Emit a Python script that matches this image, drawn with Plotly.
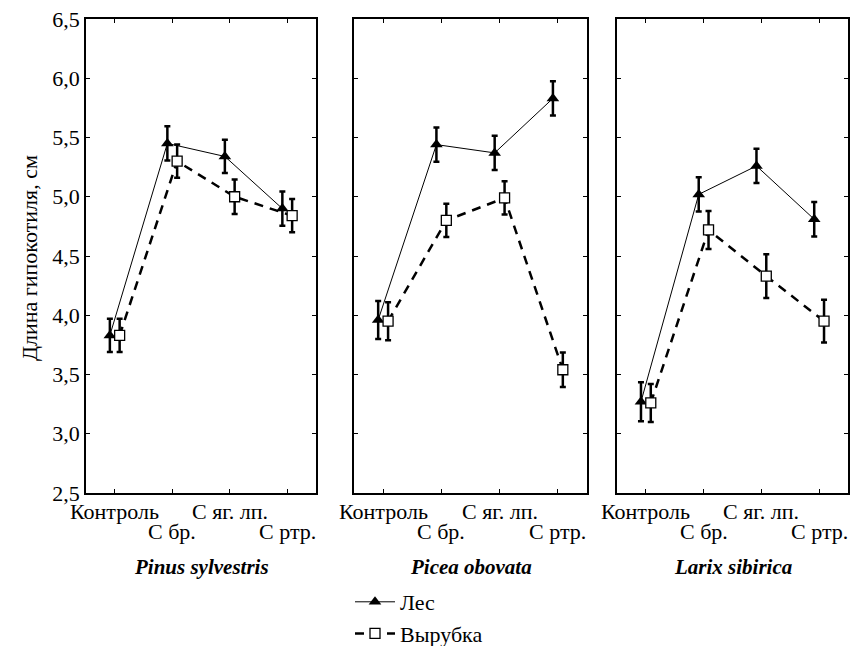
import plotly.graph_objects as go

categories = ["Контроль", "С бр.", "С яг. лп.", "С ртр."]
species = ["Pinus sylvestris", "Picea obovata", "Larix sibirica"]
series_names = ["Лес", "Вырубка"]
y_title = "Длина гипокотиля, см"
y_ticks = [2.5, 3.0, 3.5, 4.0, 4.5, 5.0, 5.5, 6.0, 6.5]

# Лес (forest)
pinus_les = [3.83, 5.45, 5.34, 4.90]
pinus_les_err = [0.14, 0.145, 0.14, 0.145]
picea_les = [3.96, 5.44, 5.37, 5.83]
picea_les_err = [0.16, 0.145, 0.145, 0.145]
larix_les = [3.27, 5.02, 5.26, 4.81]
larix_les_err = [0.165, 0.145, 0.145, 0.145]

# Вырубка (clearing)
pinus_vyr = [3.83, 5.30, 5.00, 4.84]
pinus_vyr_err = [0.14, 0.14, 0.145, 0.14]
picea_vyr = [3.95, 4.80, 4.99, 3.54]
picea_vyr_err = [0.16, 0.14, 0.14, 0.145]
larix_vyr = [3.26, 4.72, 4.33, 3.95]
larix_vyr_err = [0.16, 0.16, 0.185, 0.18]

les_vals = [pinus_les, picea_les, larix_les]
les_errs = [pinus_les_err, picea_les_err, larix_les_err]
vyr_vals = [pinus_vyr, picea_vyr, larix_vyr]
vyr_errs = [pinus_vyr_err, picea_vyr_err, larix_vyr_err]

FONT = "Liberation Serif"
W, H = 851, 646
domains_px = [(86, 316), (354, 587), (617, 848)]
top_px, bot_px = 19, 493
label_rows_px = [511, 531]
offset = 0.085

fig = go.Figure()
xpos = list(range(len(categories)))

for p in range(3):
    xa = "x" if p == 0 else f"x{p+1}"
    ya = "y" if p == 0 else f"y{p+1}"
    fig.add_trace(go.Scatter(
        x=[i - offset for i in xpos], y=les_vals[p],
        mode="lines+markers", name=series_names[0],
        legendgroup="les", showlegend=(p == 0),
        line=dict(color="black", width=1),
        marker=dict(symbol="triangle-up", size=11, color="black"),
        error_y=dict(type="data", array=les_errs[p], color="black",
                     thickness=2.5, width=3),
        xaxis=xa, yaxis=ya))
    fig.add_trace(go.Scatter(
        x=[i + offset for i in xpos], y=vyr_vals[p],
        mode="lines+markers", name=series_names[1],
        legendgroup="vyr", showlegend=(p == 0),
        line=dict(color="black", width=2.5, dash="9px,7px"),
        marker=dict(symbol="square", size=10, color="white",
                    line=dict(color="black", width=1.3)),
        error_y=dict(type="data", array=vyr_errs[p], color="black",
                     thickness=2.5, width=3),
        xaxis=xa, yaxis=ya))

ydom = [1 - bot_px / H, 1 - top_px / H]
layout = dict(
    template="none",
    width=W, height=H, autosize=False,
    margin=dict(l=0, r=0, t=0, b=0, pad=0, autoexpand=False),
    paper_bgcolor="white", plot_bgcolor="white",
    separators=", ",
    font=dict(family=FONT, size=22, color="black"),
    showlegend=True,
    legend=dict(x=350 / W, xanchor="left", y=1 - 581 / H, yanchor="top",
                font=dict(family=FONT, size=22, color="black"),
                itemwidth=40, tracegroupgap=0, bgcolor="rgba(0,0,0,0)",
                borderwidth=0),
)
annotations = []
for p in range(3):
    sfx = "" if p == 0 else str(p + 1)
    x0, x1 = domains_px[p]
    layout["xaxis" + sfx] = dict(
        domain=[x0 / W, x1 / W], range=[-0.5, 3.5], automargin=False,
        tickmode="array", tickvals=xpos, showticklabels=False,
        ticks="inside", ticklen=4, tickwidth=1, tickcolor="black",
        showline=True, linecolor="black", linewidth=1.5, mirror="ticks",
        showgrid=False, zeroline=False, anchor="y" + sfx,
        fixedrange=True)
    layout["yaxis" + sfx] = dict(
        domain=ydom, range=[2.5, 6.5], automargin=False,
        tickmode="array", tickvals=y_ticks, tickformat=".1f",
        ticks="inside", ticklen=4, tickwidth=1, tickcolor="black",
        showline=True, linecolor="black", linewidth=1.5, mirror="ticks",
        showgrid=False, zeroline=False, anchor="x" + sfx,
        showticklabels=(p == 0),
        tickfont=dict(family=FONT, size=22, color="black"),
        fixedrange=True)
    for i, cat in enumerate(categories):
        annotations.append(dict(
            text=cat, xref="x" + sfx, yref="paper", x=i,
            y=1 - label_rows_px[i % 2] / H,
            xanchor="center", yanchor="middle", showarrow=False,
            font=dict(family=FONT, size=22, color="black")))
    annotations.append(dict(
        text="<b><i>" + species[p] + "</i></b>",
        xref="paper", yref="paper", x=(x0 + x1) / 2 / W, y=1 - 567 / H,
        xanchor="center", yanchor="middle", showarrow=False,
        font=dict(family=FONT, size=21, color="black")))

annotations.append(dict(
    text=y_title, textangle=-90,
    xref="paper", yref="paper", x=30 / W, y=1 - 258 / H,
    xanchor="center", yanchor="middle", showarrow=False,
    font=dict(family=FONT, size=22, color="black")))
layout["annotations"] = annotations

fig.update_layout(**layout)
fig.write_html("out.html", config={"displayModeBar": False},
               post_script="document.body.style.margin='0';")
